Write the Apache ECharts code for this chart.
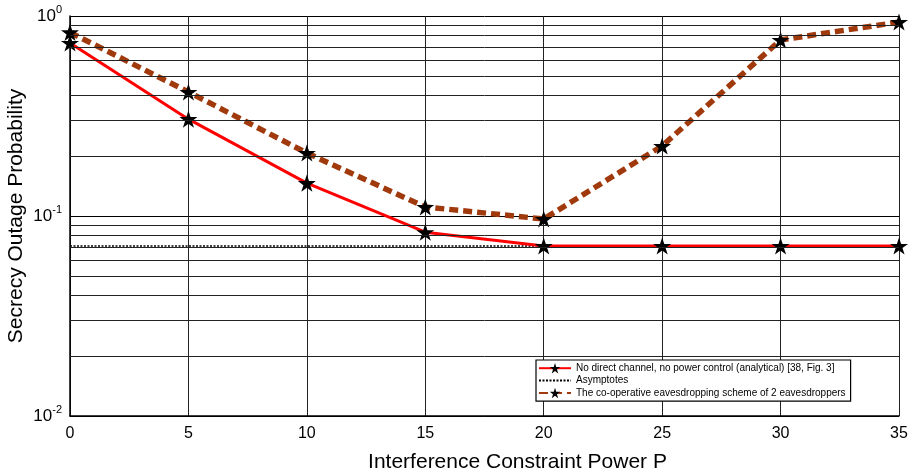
<!DOCTYPE html>
<html><head><meta charset="utf-8">
<script src="https://cdn.jsdelivr.net/npm/echarts@6/dist/echarts.min.js"></script>
<style>html,body{margin:0;padding:0;background:#fff}#c{width:920px;height:473px}</style>
</head><body><div id="c"></div>
<script>
const xValues = [0, 5, 10, 15, 20, 25, 30, 35];
const noDirect = [0.733, 0.305, 0.146, 0.083, 0.0708, 0.0708, 0.0708, 0.0708];
const asymptote = [0.0708, 0.0708, 0.0708, 0.0708, 0.0708, 0.0708, 0.0708, 0.0708];
const coop = [0.828, 0.417, 0.2065, 0.111, 0.0966, 0.224, 0.759, 0.933];
const minorGrid = [0.02,0.03,0.04,0.05,0.06,0.07,0.08,0.09,0.2,0.3,0.4,0.5,0.6,0.7,0.8,0.9];
const names = ['No direct channel, no power control (analytical) [38, Fig. 3]', 'Asymptotes', 'The co-operative eavesdropping scheme of 2 eavesdroppers'];
const star = 'path://M50,0 L61.23,34.55 L97.55,34.55 L68.16,55.9 L79.39,90.45 L50,69.1 L20.61,90.45 L31.84,55.9 L2.45,34.55 L38.77,34.55 Z';
const pair = a => xValues.map((x,i)=>[x,a[i]]);
const chart = echarts.init(document.getElementById('c'), null, {renderer:'canvas'});
chart.setOption({
  animation:false,
  textStyle:{fontFamily:'Liberation Sans, Arial, sans-serif'},
  grid:{left:70,right:21,top:16,bottom:57,containLabel:false,outerBoundsMode:'none'},
  legend:{
    orient:'vertical', left:536, top:360, itemWidth:32, itemHeight:13, itemGap:2,
    padding:[3,5,3,2], backgroundColor:'#fff', borderColor:'#000', borderWidth:1.2,
    textStyle:{fontSize:10, color:'#000'},
    data:[{name:names[0]},{name:names[1],itemStyle:{opacity:0}},{name:names[2]}]
  },
  xAxis:{type:'value', min:0, max:35, interval:5,
    name:'Interference Constraint Power P', nameLocation:'middle', nameGap:36, nameMoveOverlap:false,
    nameTextStyle:{fontSize:21,color:'#000',padding:[0,0,0,66]},
    axisLine:{show:true,onZero:false,lineStyle:{color:'#000',width:1.5}},
    axisTick:{show:false},
    axisLabel:{fontSize:16,color:'#000',margin:10},
    splitLine:{show:true,lineStyle:{color:'#222',width:1}}
  },
  yAxis:{type:'log', logBase:10, min:0.01, max:1,
    name:'Secrecy Outage Probability', nameLocation:'middle', nameGap:43, nameMoveOverlap:false,
    nameTextStyle:{fontSize:21,color:'#000'},
    axisLine:{show:true,lineStyle:{color:'#000',width:1.5}},
    axisTick:{show:false},
    axisLabel:{color:'#000',margin:8,
      formatter:function(v){const e=Math.round(Math.log10(v));return '{b|10}{s|'+e+'}';},
      rich:{b:{fontSize:17,color:'#000'},s:{fontSize:11,color:'#000',padding:[0,0,12,0]}}},
    splitLine:{show:true,lineStyle:{color:'#000',width:1}}
  },
  series:[
    {name:names[1], type:'line', data:pair(asymptote), symbol:'none', z:2,
     lineStyle:{color:'#000',width:1.5,type:[2,1.5]}, itemStyle:{color:'#000'},
     markLine:{silent:true, symbol:['none','none'], label:{show:false},
       lineStyle:{color:'#222',width:1,type:'solid'},
       data:minorGrid.map(v=>({yAxis:v}))}},
    {name:names[0], type:'line', data:pair(noDirect), symbol:star, symbolSize:18, symbolKeepAspect:true, z:3,
     lineStyle:{color:'#ff0000',width:3}, itemStyle:{color:'#000',borderWidth:0}},
    {name:names[2], type:'line', data:pair(coop), symbol:star, symbolSize:18, symbolKeepAspect:true, z:4,
     lineStyle:{color:'#a0390c',width:5.5,type:[9,5]}, itemStyle:{color:'#000',borderWidth:0}}
  ]
});
</script></body></html>
